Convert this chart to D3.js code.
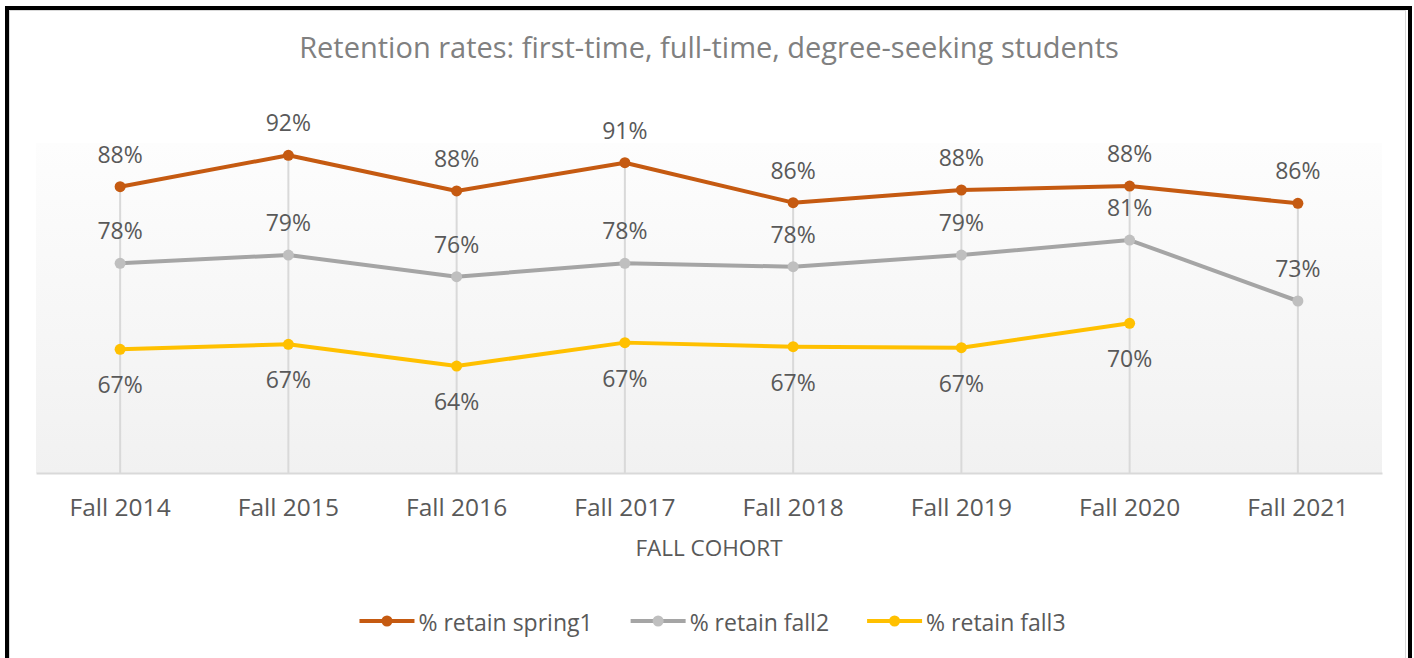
<!DOCTYPE html>
<meta charset="utf-8">
<style type="text/css">
	body {
		margin: 0;
		background: #fff;
		font-family: "Open Sans", sans-serif;
	}

	.title {
		font-size: 29px;
		fill: #808080;
	}

	.x.axis text {
		font-family: "Open Sans", sans-serif;
		font-size: 24.5px;
		fill: #595959;
	}

	.x.axis .domain {
		stroke: #d9d9d9;
		stroke-width: 2px;
	}

	.axis-title {
		font-size: 22.5px;
		fill: #595959;
	}

	.drop-line {
		stroke: #d9d9d9;
		stroke-width: 2px;
	}

	.line {
		fill: none;
		stroke-width: 4px;
		stroke-linejoin: round;
	}

	.data-label {
		font-size: 23px;
		fill: #595959;
		text-anchor: middle;
	}

	.legend text {
		font-size: 23px;
		fill: #595959;
	}
</style>

<body>
<div class="g-chart"></div>
</body>

<script src="https://d3js.org/d3.v7.min.js"></script>

<script>
  // chart data
  var categories = ["Fall 2014", "Fall 2015", "Fall 2016", "Fall 2017", "Fall 2018", "Fall 2019", "Fall 2020", "Fall 2021"];
  var seriesNames = ["% retain spring1", "% retain fall2", "% retain fall3"];
  var spring1 = [0.8824, 0.9243, 0.8767, 0.9144, 0.8611, 0.8780, 0.8833, 0.8603];
  var fall2 = [0.7803, 0.7913, 0.7624, 0.7803, 0.7757, 0.7913, 0.8113, 0.7300];
  var fall3 = [0.6656, 0.6723, 0.6433, 0.6745, 0.6691, 0.6677, 0.7003, null];

  var width = 1414,
    height = 658;

  // plot area
  var plot = { left: 36, right: 1382, top: 143, bottom: 473 };

  var svg = d3.select(".g-chart").append("svg")
    .attr("width", width)
    .attr("height", height);

  var series = [
    { name: seriesNames[0], values: spring1, line: "#c55a11", marker: "#c55a11", below: false },
    { name: seriesNames[1], values: fall2, line: "#a5a5a5", marker: "#bfbfbf", below: false },
    { name: seriesNames[2], values: fall3, line: "#ffc000", marker: "#ffc000", below: true }
  ];

  var xScale = d3.scaleBand()
    .domain(categories)
    .range([plot.left, plot.right]);

  var yScale = d3.scaleLinear()
    .domain([0.5, 0.95])
    .range([473.5, 136]);

  function cx(d) { return xScale(d) + xScale.bandwidth() / 2; }

  //gradient for plot area
  var grad = svg.append("defs").append("linearGradient")
    .attr("id", "plotGrad")
    .attr("x1", 0).attr("y1", 0).attr("x2", 0).attr("y2", 1);
  grad.append("stop").attr("offset", "0%").attr("stop-color", "#fdfdfd");
  grad.append("stop").attr("offset", "100%").attr("stop-color", "#f1f1f1");

  svg.append("rect")
    .attr("x", plot.left)
    .attr("y", plot.top)
    .attr("width", plot.right - plot.left)
    .attr("height", plot.bottom - plot.top)
    .attr("fill", "url(#plotGrad)");

  //frame
  svg.append("rect")
    .attr("x", 9.5).attr("y", 10.5)
    .attr("width", 1396).attr("height", 700)
    .attr("fill", "none")
    .attr("stroke", "#d9d9d9")
    .attr("stroke-width", 1);

  svg.append("rect")
    .attr("x", 7).attr("y", 8)
    .attr("width", 1403).attr("height", 700)
    .attr("fill", "none")
    .attr("stroke", "#000")
    .attr("stroke-width", 4);

  //title
  svg.append("text")
    .attr("class", "title")
    .attr("x", 709)
    .attr("y", 58)
    .attr("text-anchor", "middle")
    .text("Retention rates: first-time, full-time, degree-seeking students");

  //drop lines from highest point to the axis
  svg.selectAll("line.drop-line")
    .data(categories)
    .enter()
    .append("line")
    .attr("class", "drop-line")
    .attr("x1", cx)
    .attr("x2", cx)
    .attr("y1", function(d, i) {
      return yScale(d3.max(series, function(s) { return s.values[i]; }));
    })
    .attr("y2", plot.bottom);

  //x axis
  var xAxis = d3.axisBottom(xScale)
    .tickSize(0)
    .tickPadding(26);

  var xAxisGroup = svg.append("g")
    .attr("class", "x axis")
    .attr("transform", "translate(0," + plot.bottom + ")")
    .call(xAxis);

  xAxisGroup.selectAll("text").attr("dy", null).attr("y", 43);

  svg.append("text")
    .attr("class", "axis-title")
    .attr("x", 709)
    .attr("y", 556)
    .attr("text-anchor", "middle")
    .text("FALL COHORT");

  //lines, markers, labels
  var line = d3.line()
    .defined(function(d) { return d != null; })
    .x(function(d, i) { return cx(categories[i]); })
    .y(function(d) { return yScale(d); });

  var fmt = d3.format(".0%");

  series.forEach(function(s) {
    var pts = s.values.map(function(v, i) { return { v: v, c: categories[i] }; })
      .filter(function(p) { return p.v != null; });

    svg.append("path")
      .attr("class", "line")
      .attr("d", line(s.values))
      .style("stroke", s.line);

    svg.selectAll(null)
      .data(pts)
      .enter()
      .append("circle")
      .attr("cx", function(p) { return cx(p.c); })
      .attr("cy", function(p) { return yScale(p.v); })
      .attr("r", 5.5)
      .style("fill", s.marker);

    svg.selectAll(null)
      .data(pts)
      .enter()
      .append("text")
      .attr("class", "data-label")
      .attr("x", function(p) { return cx(p.c); })
      .attr("y", function(p) { return yScale(p.v) + (s.below ? 44 : -24); })
      .text(function(p) { return fmt(p.v); });
  });

  //legend
  var legend = svg.append("g").attr("class", "legend");
  var lx = 0;
  series.forEach(function(s, i) {
    var item = legend.append("g").attr("transform", "translate(" + lx + ",0)");
    item.append("line")
      .attr("x1", 0).attr("x2", 55)
      .attr("y1", 621).attr("y2", 621)
      .style("stroke", s.line)
      .style("stroke-width", 4);
    item.append("circle")
      .attr("cx", 27.5).attr("cy", 621).attr("r", 5.5)
      .style("fill", s.marker);
    var t = item.append("text")
      .attr("x", 59)
      .attr("y", 631)
      .text(s.name);
    lx += 59 + t.node().getComputedTextLength() + 38;
  });
  var lw = lx - 38;
  legend.attr("transform", "translate(" + (712.5 - lw / 2) + ",0)");
</script>
